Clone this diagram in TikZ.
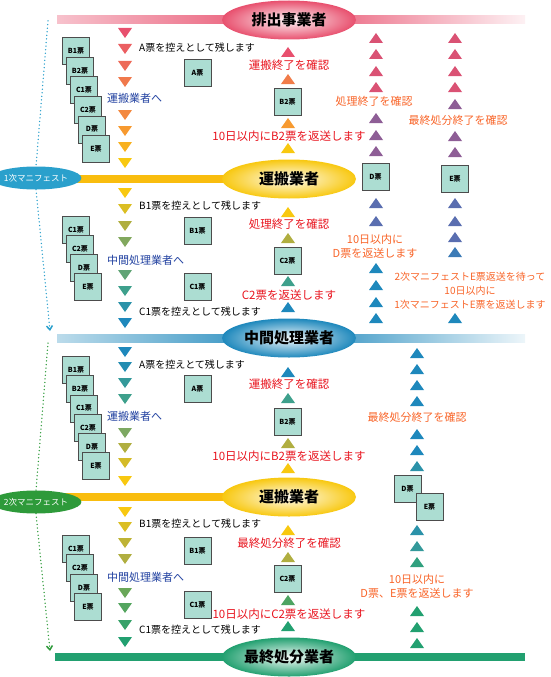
\documentclass[tikz,border=0pt]{standalone}
\usepackage{fontspec}
\setmainfont{Noto Sans CJK JP}
\usetikzlibrary{shapes.geometric,arrows.meta}

\definecolor{pk}{HTML}{E8506E}
\definecolor{orn}{HTML}{F79A30}
\definecolor{yel}{HTML}{F8C810}
\definecolor{olv}{HTML}{B0AE40}
\definecolor{tea}{HTML}{3EA08C}
\definecolor{blu}{HTML}{1E88BC}
\definecolor{grn}{HTML}{22A070}
\definecolor{pur}{HTML}{8E5E96}
\definecolor{slt}{HTML}{5A6EB0}
\definecolor{mint}{HTML}{ACDDD2}
\definecolor{navy}{HTML}{1F3F9F}
\definecolor{redtxt}{HTML}{E8141E}
\definecolor{orangetxt}{HTML}{F86428}
\definecolor{manblue}{HTML}{2AA0CC}
\definecolor{mangreen}{HTML}{2E9A3A}

\begin{document}
\begin{tikzpicture}[
    x=1pt, y=-1pt,
    party/.style={ellipse, minimum width=134pt, minimum height=39pt, inner sep=0pt,
        font=\fontsize{15}{15}\selectfont\bfseries, inner color=#1!5, outer color=#1},
    mani/.style={ellipse, fill=#1, text=white, minimum width=72pt, minimum height=23pt,
        inner sep=0pt, font=\fontsize{8.5}{9}\selectfont},
    ticket/.style={rectangle, draw=black!70, line width=0.8pt, fill=mint, minimum size=27pt,
        inner sep=0pt, font=\fontsize{7}{7}\selectfont\bfseries},
    keep/.style={anchor=west, inner sep=0pt, font=\fontsize{10}{12}\selectfont},
    pass/.style={anchor=west, inner sep=0pt, text=navy, font=\fontsize{11}{13}\selectfont},
    confirm/.style={inner sep=0pt, text=redtxt, font=\fontsize{11.5}{13}\selectfont},
    report/.style={inner sep=0pt, text=orangetxt, align=center, font=\fontsize{11}{14}\selectfont},
    dotline/.style={line width=1.5pt, dash pattern=on 0pt off 3.6pt, line cap=round},
    dtri/.pic={\fill (-7,-5) -- (7,-5) -- (0,5) -- cycle;},
    utri/.pic={\fill (-7,5) -- (7,5) -- (0,-5) -- cycle;}
]
\useasboundingbox (0,0) rectangle (550,677);

% Bars
\shade[left color=pk!35, right color=pk] (57,16) rectangle (289,24);
\shade[left color=pk, middle color=pk!80, right color=pk!8] (289,16) rectangle (525,24);
\fill[yel!85!orange] (60,175) rectangle (289,183);
\shade[left color=blu!30, right color=blu] (57,334) rectangle (289,342);
\shade[left color=blu, middle color=blu!80, right color=blu!8] (289,334) rectangle (525,342);
\fill[yel!85!orange] (60,493) rectangle (289,501);
\fill[grn] (55,653) rectangle (525,661);

% Parties
\node[party=pk]  (haishutsu) at (289,20)  {排出事業者};
\node[party=yel] (unpan1)    at (289,179) {運搬業者};
\node[party=blu] (chukan)    at (289,338) {中間処理業者};
\node[party=yel] (unpan2)    at (289,497) {運搬業者};
\node[party=grn] (saishu)    at (289,657) {最終処分業者};

% Manifests
\node[mani=manblue]  (mani1) at (36,178) {1次マニフェスト};
\node[mani=mangreen] (mani2) at (36,502) {2次マニフェスト};

\coordinate (m1start) at (48,21);
\coordinate (m1end)   at (50,331);
\coordinate (m2start) at (48,343);
\coordinate (m2end)   at (50,651);
\draw[dotline, manblue] (m1start) -- (mani1.north);
\draw[dotline, manblue, -{Straight Barb[length=4pt,width=6pt]}] (mani1.south) -- (m1end);
\draw[dotline, mangreen] (m2start) -- (mani2.north);
\draw[dotline, mangreen, -{Straight Barb[length=4pt,width=6pt]}] (mani2.south) -- (m2end);

% Down triangles (sending)
\foreach \y/\c in {33/pk, 49/pk!80!orn, 66/pk!65!orn, 82/pk!45!orn, 115/pk!25!orn, 131/orn, 147/orn!50!yel, 163/yel}
    \pic[fill=\c] at (125,\y) {dtri};
\foreach \y/\c in {193/yel, 209/yel!60!olv, 226/olv, 242/olv!60!tea, 275/olv!30!tea, 291/tea, 307/tea!40!blu, 323/blu}
    \pic[fill=\c] at (125,\y) {dtri};
\foreach \y/\c in {352/blu, 367/blu!80!tea, 383/tea!70!blu, 399/tea, 433/olv!55!tea, 448/olv, 463/olv!50!yel, 481/yel}
    \pic[fill=\c] at (125,\y) {dtri};
\foreach \y/\c in {512/yel, 527/yel!60!olv, 543/olv!80!yel, 559/olv, 593/olv!50!grn, 608/grn!65!olv, 625/grn!85!olv, 642/grn}
    \pic[fill=\c] at (125,\y) {dtri};

% Up triangles (returning), centre column
\foreach \y/\c in {52/pk, 79/pk!40!orn, 123/orn, 148/yel,
                   212/yel, 238/olv, 281/tea, 307/blu,
                   372/blu, 398/tea, 443/olv, 468/yel,
                   530/yel, 557/olv, 600/grn!70!olv, 626/grn}
    \pic[fill=\c] at (288,\y) {utri};

% Up triangles, right columns
\foreach \y/\c in {38/pk!85!pur, 54/pk!85!pur, 71/pk!85!pur, 87/pk!85!pur, 118/pur, 135/pur, 151/pur,
                   203/slt, 221/slt, 268/blu, 285/blu, 302/blu, 318/blu}
    \pic[fill=\c] at (376,\y) {utri};
\foreach \y/\c in {38/pk!85!pur, 54/pk!85!pur, 71/pk!85!pur, 87/pk!85!pur, 104/pur, 136/pur, 152/pur,
                   203/slt, 221/slt, 237/slt, 252/slt!50!blu, 318/blu}
    \pic[fill=\c] at (455,\y) {utri};
\foreach \y/\c in {353/blu, 369/blu, 385/blu, 401/blu, 434/blu, 450/blu, 466/blu!60!tea,
                   530/blu!60!tea, 546/tea!70!blu, 562/tea!50!grn, 611/grn, 627/grn, 643/grn}
    \pic[fill=\c] at (417,\y) {utri};

% Stacked tickets
\foreach \lbl [count=\i] in {B1票,B2票,C1票,C2票,D票,E票}
    \node[ticket] (stA-\i) at ({72+4*\i},{51+19.6*(\i-1)}) {\lbl};
\foreach \lbl [count=\i] in {C1票,C2票,D票,E票}
    \node[ticket] (stB-\i) at ({72+4*\i},{230+19*(\i-1)}) {\lbl};
\foreach \lbl [count=\i] in {B1票,B2票,C1票,C2票,D票,E票}
    \node[ticket] (stC-\i) at ({72+4*\i},{370+19.2*(\i-1)}) {\lbl};
\foreach \lbl [count=\i] in {C1票,C2票,D票,E票}
    \node[ticket] (stD-\i) at ({72+4*\i},{549+19.3*(\i-1)}) {\lbl};

% Tickets kept
\node[ticket] (keepA1)  at (197.5,73)  {A票};
\node[ticket] (keepB1)  at (197.5,231) {B1票};
\node[ticket] (keepC1)  at (197.5,287) {C1票};
\node[ticket] (keepA2)  at (197.5,389) {A票};
\node[ticket] (keepB1b) at (197.5,551) {B1票};
\node[ticket] (keepC1b) at (197.5,605) {C1票};

% Tickets returned
\node[ticket] (retB2)  at (287.5,101.5) {B2票};
\node[ticket] (retC2)  at (287.5,260.5) {C2票};
\node[ticket] (retB2b) at (287.5,421.5) {B2票};
\node[ticket] (retC2b) at (287.5,578.5) {C2票};
\node[ticket] (retD)   at (375.5,177)   {D票};
\node[ticket] (retE)   at (455,179)     {E票};
\node[ticket] (retD2)  at (407.5,488.5) {D票};
\node[ticket] (retE2)  at (429.5,506.5) {E票};

% Left texts
\node[keep] (tkA1) at (139,48)  {A票を控えとして残します};
\node[keep] (tkB1) at (139,206) {B1票を控えとして残します};
\node[keep] (tkC1) at (139,312) {C1票を控えとして残します};
\node[keep] (tkA2) at (139,365) {A票を控えとて残します};
\node[keep] (tkB2) at (139,524) {B1票を控えとして残します};
\node[keep] (tkC2) at (139,630) {C1票を控えとして残します};

\node[pass] (toU1) at (107,98)  {運搬業者へ};
\node[pass] (toC1) at (107,260) {中間処理業者へ};
\node[pass] (toU2) at (107,416) {運搬業者へ};
\node[pass] (toC2) at (107,577) {中間処理業者へ};

% Centre texts
\node[confirm] (cf1) at (289,65)  {運搬終了を確認};
\node[confirm] (rt1) at (289,136) {10日以内にB2票を返送します};
\node[confirm] (cf2) at (289,224) {処理終了を確認};
\node[confirm] (rt2) at (289,295) {C2票を返送します};
\node[confirm] (cf3) at (289,384) {運搬終了を確認};
\node[confirm] (rt3) at (289,456) {10日以内にB2票を返送します};
\node[confirm] (cf4) at (289,543) {最終処分終了を確認};
\node[confirm] (rt4) at (289,614) {10日以内にC2票を返送します};

% Right texts
\node[report] (rpD1) at (374,101)   {処理終了を確認};
\node[report] (rpE1) at (458,120)   {最終処分終了を確認};
\node[report] (rpD2) at (375,246.5) {10日以内に\\D票を返送します};
\node[report, font=\fontsize{10}{14}\selectfont] (rpE2) at (470,291)
    {2次マニフェストE票返送を待って\\10日以内に\\1次マニフェストE票を返送します};
\node[report] (rpF1) at (417,417)   {最終処分終了を確認};
\node[report] (rpF2) at (417,586)   {10日以内に\\D票、E票を返送します};

\end{tikzpicture}
\end{document}
